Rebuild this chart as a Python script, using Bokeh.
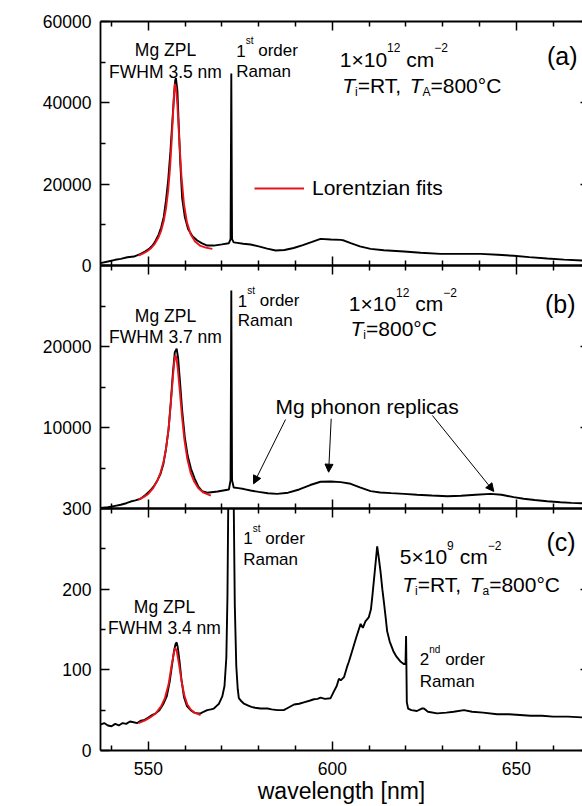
import math
from bokeh.plotting import figure
from bokeh.models import (Range1d, FixedTicker, LinearAxis, Label, Arrow, NormalHead,
                          Legend, LegendItem)
from bokeh.layouts import column
from bokeh.embed import file_html
from bokeh.resources import INLINE

FONT = "Liberation Sans"

# ------------------------------------------------------------------ data
# panel (a): 1e12 cm^-2, Ti=RT, TA=800C
wl_a = [537, 539, 541, 542.5, 544.3, 546.1, 547.9, 549.2, 550.2, 551.2, 552, 552.8, 553.5,
        554.2, 554.8, 555.4, 556, 556.5, 557, 557.3, 557.5, 557.9, 558.2, 558.7, 559.2,
        559.9, 560.8, 562, 563.3, 564.5, 566, 567.8, 570, 571.9, 572.35, 572.55, 572.75,
        573.2, 574.2, 575.8, 577.8, 580, 582.3, 584.6, 587, 589.5, 592, 594.5, 596.8,
        599.6, 602.3, 603.2, 605, 607.5, 610.4, 614, 619.5, 624, 629.4, 635, 640.3, 645,
        649.3, 653.5, 658.4, 663, 668]
int_a = [570, 980, 1400, 1640, 2040, 2210, 2870, 3500, 4100, 5000, 6140, 7600, 9400,
         12000, 16000, 21000, 28000, 35000, 42000, 45500, 46100, 43000, 36000, 25000, 16500,
         12000, 9000, 7200, 6140, 5500, 4900, 4900, 5200, 5480, 6500, 47200, 6500,
         5700, 5570, 5350, 5160, 4700, 4150, 3680, 3800, 4300, 5000, 5800, 6550,
         6390, 6300, 6140, 5480, 4700, 4100, 3750, 3440, 3150, 2870, 2870, 2870, 2650,
         2380, 2050, 1720, 1450, 1230]
fit_wl_a = [547.3, 548.5, 549.7, 550.8, 551.8, 552.7, 553.5, 554.2, 554.8, 555.4, 555.9,
            556.3, 556.7, 557.0, 557.2, 557.5, 557.9, 558.4, 559.0, 559.7, 560.5, 561.5,
            562.7, 564, 565.6, 567.4]
fit_int_a = [2450, 2900, 3500, 4300, 5400, 6800, 8600, 11000, 14000, 18500, 24000,
             30000, 37000, 42500, 44700, 43800, 39500, 31000, 22000, 15000, 10600, 7700,
             5900, 4900, 4400, 4100]

# panel (b): 1e12 cm^-2, Ti=800C
wl_b = [537, 539, 541, 542.5, 544, 545.2, 546.5, 547.9, 549.3, 550.6, 551.5, 552.5, 553.3,
        554.1, 554.8, 555.5, 556.1, 556.7, 557.2, 557.7, 558.1, 558.6, 559.2, 559.9, 560.7,
        561.6, 562.6, 563.6, 564.6, 566, 568.8, 571.9, 572.35, 572.55, 572.75, 573.2, 574.5,
        576, 577.8, 580, 582.5, 585, 588, 591, 594, 596.8, 599.6, 602.3, 605, 607.5, 610.4,
        613, 616, 619.5, 623, 627, 631.3, 635, 639, 643, 646, 649.3, 652, 655, 658.4, 662,
        665, 668]
int_b = [60, 150, 330, 460, 650, 860, 1000, 1200, 1700, 2250, 2750, 3500, 4260,
         5500, 7350, 9800, 13100, 16900, 19300, 19720, 18550, 15700, 12100, 8850, 6500,
         4900, 3700, 2700, 2150, 1950, 2100, 2350, 3500, 26900, 3500, 2600, 2510,
         2400, 2220, 2050, 1880, 1810, 1950, 2350, 2900, 3300, 3330, 3260, 3050, 2600, 2140,
         1980, 1900, 1810, 1700, 1600, 1520, 1580, 1700, 1800, 1700, 1400, 1200, 1050, 900,
         780, 700, 650]
fit_wl_b = [547.3, 548.7, 550, 551.2, 552.3, 553.3, 554.1, 554.8, 555.5, 556.1, 556.6, 557.0,
            557.3, 557.6, 558.0, 558.5, 559.1, 559.8, 560.6, 561.5, 562.5, 563.6, 565, 567]
fit_int_b = [1100, 1400, 1800, 2450, 3300, 4400, 5700, 7400, 9800, 12900, 15800, 17900,
             18900, 18700, 17300, 14800, 11600, 8500, 6100, 4400, 3300, 2500, 1950, 1600]

# panel (c): 5e9 cm^-2, Ti=RT, Ta=800C
wl_c = [537, 538, 539, 540, 541, 542, 543, 544, 545, 546, 547, 548, 549, 550, 551, 552, 553,
        554, 555, 555.8, 556.5, 557, 557.4, 557.7, 558, 558.5, 559, 559.7, 560.5, 561.5,
        562.5, 563.5, 564.2, 565, 566, 567, 567.8, 568.5, 569.2, 570.1, 570.7, 571.2, 571.5,
        571.75, 572.1, 572.45, 572.8, 573.2, 573.5, 573.9, 574.3, 574.6, 575.3, 576, 577, 578,
        579, 580.5, 582.4, 583.5, 585.1, 586.8, 588, 589.6, 591, 592.5, 594, 595, 596, 596.8,
        598, 599.5, 600.4, 601.2, 601.8, 602.3, 603.2, 604.1, 604.5, 605.5, 606.5, 607.2,
        607.7, 608.3, 609, 609.9, 610.5, 610.9, 611.5, 612.2, 612.6, 613.1, 613.6, 614,
        614.5, 614.9, 615.6, 616.7, 617.5, 618.6, 619.5, 619.9, 620.05, 620.25, 620.6, 621.5,
        623, 624.3, 624.9, 626, 628.5, 631, 633, 635.8, 638, 641, 644.8, 648, 651, 653.9,
        657, 660, 664, 668]
int_c = [32, 34, 31, 30, 33, 31, 34, 33, 36, 35, 34, 37, 38, 41, 44, 46, 50,
         57, 67, 85, 108, 124, 132, 134, 128, 110, 88, 66, 55, 50,
         47, 46, 46, 48, 50, 51, 52, 55, 58, 67, 80, 115, 190,
         320, 700, 1000, 700, 310, 180, 105, 76, 65, 61, 58, 56, 54,
         53, 52, 52, 51, 50, 50, 53, 57, 58, 60, 62, 63.5, 64, 65.5,
         64, 64.7, 73, 80, 89, 87, 91, 105, 110, 125, 140, 150,
         157, 152, 160, 165, 175, 192, 220, 253, 240, 222, 200, 185,
         165, 148, 135, 122, 116, 110, 107, 108, 142, 60, 52, 50,
         49, 52, 52, 48, 46, 47, 48, 50, 48, 47, 45, 45, 44, 43,
         43, 42, 42, 41]
fit_wl_c = [547.3, 549, 550.5, 552, 553.5, 554.5, 555.5, 556.3, 557, 557.3, 557.7, 558.3, 559,
            559.8, 560.6, 561.5, 562.5, 564.2]
fit_int_c = [34, 37, 41, 46, 55, 65, 82, 105, 122, 127, 124, 108, 87, 68, 57, 51, 47, 44]

x_major = [550, 600, 650]
x_minor = [540, 560, 570, 580, 590, 610, 620, 630, 640, 660]
ya_major, ya_minor = [0, 20000, 40000, 60000], [10000, 30000, 50000]
yb_major, yb_minor = [10000, 20000], [5000, 15000, 25000]
yc_major, yc_minor = [0, 100, 200, 300], [50, 150, 250]

# ------------------------------------------------------------------ helpers
W = {' ': 278, '(': 333, ')': 333, ',': 278, '.': 278, '=': 584, '×': 584, '°': 400,
     '−': 584, 'A': 667, 'C': 722, 'F': 611, 'H': 722, 'L': 556, 'M': 833, 'P': 667,
     'R': 722, 'T': 611, 'W': 944, 'Z': 611, 'c': 500, 'f': 278, 'i': 222, 'l': 222,
     'm': 833, 'r': 333, 's': 500, 't': 278, 'z': 500, 'y': 500}


def tw(s, size):
    return sum(W.get(ch, 556) for ch in s) / 1000.0 * size


def rx(px):
    return 537 + (px - 100) / 3.679


def ra(py):
    return (265.0 - py) * 60000 / 244.3


def rb(py):
    return (508.6 - py) * 10000 / 81.3


def rc(py):
    return (752.7 - py) * 100 / 81.5


def txt(p, x, y, text, size, align="left", style="normal"):
    p.add_layout(Label(x=x, y=y, text=text, text_font=FONT, text_font_size=f"{size}px",
                       text_font_style=style, text_align=align, text_baseline="alphabetic",
                       text_color="black"))


def rich(p, x, y, pieces):
    off = 0.0
    for text, size, style, dy in pieces:
        lead = len(text) - len(text.lstrip(" "))
        off += tw(" " * lead, size)
        body = text.strip(" ")
        if body:
            p.add_layout(Label(x=x, y=y, x_offset=off, y_offset=dy, text=body,
                               text_font=FONT, text_font_size=f"{size}px",
                               text_font_style=style, text_align="left",
                               text_baseline="alphabetic", text_color="black"))
        off += tw(text.lstrip(" "), size)


def new_fig(height, ymax, top, bottom):
    p = figure(width=582, height=height, x_range=Range1d(537, 668), y_range=Range1d(0, ymax),
               output_backend="svg", toolbar_location=None,
               x_axis_location=None, y_axis_location=None,
               min_border_left=100, min_border_right=0, min_border_top=top,
               min_border_bottom=bottom)
    p.outline_line_color = None
    p.background_fill_color = None
    p.border_fill_color = None
    p.grid.visible = False
    return p


def tick_axis(p, loc, ticks, length, line):
    ax = LinearAxis(ticker=FixedTicker(ticks=[], minor_ticks=ticks),
                    major_tick_in=0, major_tick_out=0, minor_tick_in=length, minor_tick_out=0,
                    minor_tick_line_width=1.5, minor_tick_line_color="black",
                    axis_line_width=1.8, axis_line_color="black" if line else None,
                    major_label_standoff=0)
    p.add_layout(ax, loc)


def axes(p, ymaj, ymin, x_labels=False):
    yt = FixedTicker(ticks=ymaj, minor_ticks=ymin)
    common = dict(major_tick_out=0, minor_tick_out=0, major_tick_line_width=1.5,
                  minor_tick_line_width=1.5, axis_line_width=1.8,
                  major_label_text_font=FONT, major_label_text_color="black",
                  major_label_text_font_size="17.5px")
    left = LinearAxis(ticker=yt, major_tick_in=9, minor_tick_in=5, major_label_standoff=9,
                      **common)
    p.add_layout(left, "left")
    tick_axis(p, "right", ymaj, 2, False)
    tick_axis(p, "above", x_minor, 5, True)
    tick_axis(p, "above", x_major, 9, False)
    if x_labels:
        xt = FixedTicker(ticks=x_major, minor_ticks=x_minor)
        bot = LinearAxis(ticker=xt, major_tick_in=9, minor_tick_in=5, major_label_standoff=11,
                         axis_label="wavelength [nm]", axis_label_text_font=FONT,
                         axis_label_text_font_size="23px", axis_label_text_font_style="normal",
                         axis_label_standoff=0, axis_label_text_color="black", **common)
        p.add_layout(bot, "below")
    else:
        tick_axis(p, "below", x_minor, 5, True)
        tick_axis(p, "below", x_major, 9, False)


LW = 1.9
RED = "#e8141b"

# ------------------------------------------------------------------ panel (a)
pa = new_fig(275, 60000, 21, 10)
axes(pa, ya_major, ya_minor)
pa.line(wl_a, int_a, line_color="black", line_width=LW)
red_a = pa.line(fit_wl_a, fit_int_a, line_color=RED, line_width=LW)
txt(pa, rx(165), ra(49.3), "Mg ZPL", 17.5, "center")
txt(pa, rx(165), ra(71), "FWHM 3.5 nm", 17.5, "center")
rich(pa, rx(235.7), ra(50), [("1", 17, "normal", 0), ("st", 10, "normal", 10),
                              (" order", 17, "normal", 0)])
txt(pa, rx(235.7), ra(71), "Raman", 17)
rich(pa, rx(339.3), ra(58.3), [("1×10", 21, "normal", 0), ("12", 12, "normal", 11.5),
                                (" cm", 21, "normal", 0), ("−2", 12, "normal", 11.5)])
rich(pa, rx(341.7), ra(85), [("T", 21, "italic", 0), ("i", 12, "normal", -6.5),
                              ("=RT, ", 21, "normal", 0), ("T", 21, "italic", 0),
                              ("A", 12, "normal", -6.5), ("=800°C", 21, "normal", 0)])
txt(pa, rx(577), ra(55), "(a)", 25, "right")
leg = Legend(items=[LegendItem(label="Lorentzian fits", renderers=[red_a])],
             location=(154, 65), background_fill_alpha=0, border_line_color=None,
             padding=0, margin=0, spacing=0, glyph_width=50, glyph_height=20,
             label_height=20, label_standoff=8, label_text_font=FONT,
             label_text_font_size="21px", label_text_color="black")
pa.add_layout(leg)

# ------------------------------------------------------------------ panel (b)
pb = new_fig(263, 30000, 10, 10)
pb.margin = (-20, 0, 0, 0)
axes(pb, yb_major, yb_minor)
pb.line(wl_b, int_b, line_color="black", line_width=LW)
pb.line(fit_wl_b, fit_int_b, line_color=RED, line_width=LW)
txt(pb, rx(165), rb(315), "Mg ZPL", 17.5, "center")
txt(pb, rx(165), rb(336.7), "FWHM 3.7 nm", 17.5, "center")
rich(pb, rx(237.3), rb(300), [("1", 17, "normal", 0), ("st", 10, "normal", 10),
                               (" order", 17, "normal", 0)])
txt(pb, rx(237.3), rb(320), "Raman", 17)
rich(pb, rx(348.3), rb(303.3), [("1×10", 21, "normal", 0), ("12", 12, "normal", 11.5),
                                 (" cm", 21, "normal", 0), ("−2", 12, "normal", 11.5)])
rich(pb, rx(350), rb(328.3), [("T", 21, "italic", 0), ("i", 12, "normal", -6.5),
                               ("=800°C", 21, "normal", 0)])
txt(pb, rx(575), rb(303), "(b)", 25, "right")
txt(pb, rx(275), rb(406.7), "Mg phonon replicas", 21)
for xs, ys, xe, ye in [(587.3, 10990, 578.6, 3050), (599.7, 11080, 599.0, 4480),
                       (627.2, 11490, 643.9, 2100)]:
    pb.add_layout(Arrow(end=NormalHead(size=8, fill_color="black", line_color="black",
                                       line_width=1),
                        x_start=xs, y_start=ys, x_end=xe, y_end=ye,
                        line_color="black", line_width=1))
pb.add_layout(Label(x=rx(23), y=rb(376), text="PL intensity [a.u.]", angle=math.pi / 2,
                    text_align="center", text_baseline="middle", text_font=FONT,
                    text_font_size="22px", text_color="black"))

# ------------------------------------------------------------------ panel (c)
pc = new_fig(308, 300, 10, 54)
pc.margin = (-20, 0, 0, 0)
axes(pc, yc_major, yc_minor, x_labels=True)
pc.line(wl_c, int_c, line_color="black", line_width=LW)
pc.line(fit_wl_c, fit_int_c, line_color=RED, line_width=LW)
rich(pc, rx(242.7), rc(538.3), [("1", 17, "normal", 0), ("st", 10, "normal", 10),
                                 (" order", 17, "normal", 0)])
txt(pc, rx(242.7), rc(559.3), "Raman", 17)
txt(pc, rx(164), rc(607.3), "Mg ZPL", 17.5, "center")
txt(pc, rx(164), rc(629), "FWHM 3.4 nm", 17.5, "center")
rich(pc, rx(399.3), rc(556.7), [("5×10", 21, "normal", 0), ("9", 12, "normal", 11.5),
                                 (" cm", 21, "normal", 0), ("−2", 12, "normal", 11.5)])
rich(pc, rx(401.7), rc(585), [("T", 21, "italic", 0), ("i", 12, "normal", -6.5),
                               ("=RT, ", 21, "normal", 0), ("T", 21, "italic", 0),
                               ("a", 12, "normal", -6.5), ("=800°C", 21, "normal", 0)])
txt(pc, rx(575), rc(541.7), "(c)", 25, "right")
rich(pc, rx(419.3), rc(660.7), [("2", 17, "normal", 0), ("nd", 10, "normal", 10),
                                 (" order", 17, "normal", 0)])
txt(pc, rx(419.3), rc(682.7), "Raman", 17)

layout = column(pa, pb, pc, spacing=0)
open("out.html", "w").write(file_html(layout, INLINE))
